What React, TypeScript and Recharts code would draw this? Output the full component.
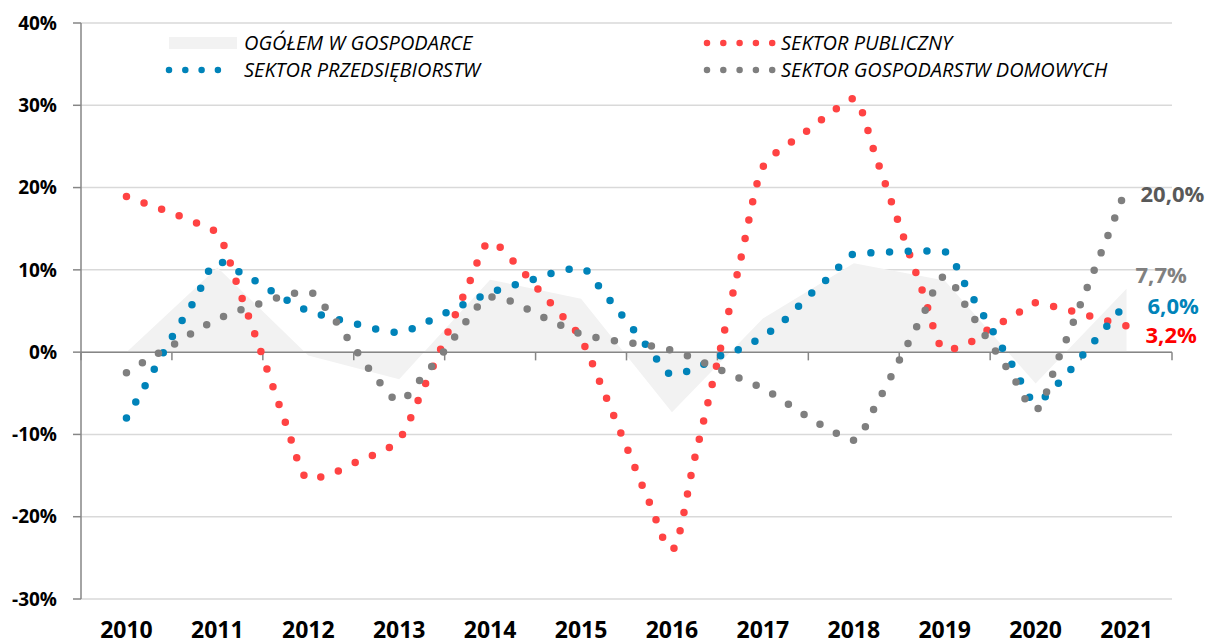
import {
  Area,
  CartesianGrid,
  ComposedChart,
  LabelList,
  Line,
  ReferenceLine,
  XAxis,
  YAxis,
} from "recharts";

const years = ["2010", "2011", "2012", "2013", "2014", "2015", "2016", "2017", "2018", "2019", "2020", "2021"];

// annual, y/y %
const totalEconomy = [0, 10.3, -0.4, -3.3, 8.8, 6.5, -7.3, 4.1, 10.8, 8.7, -3.8, 7.7];

// quarterly, from mid-2010 to mid-2021
const publicSector = [
  18.9, 17.9, 16.9, 15.8, 14.4, 7.2, -0.6, -8.6, -15.4, -14.8, -13.5, -12.3,
  -10.6, -4.8, 1.5, 7.9, 13.4, 11.1, 8.0, 4.9, 1.6, -4.8, -11.5, -18.2,
  -24.0, -12.9, -1.2, 11.0, 22.5, 25.0, 27.0, 29.1, 30.8, 23.5, 15.5, 7.6,
  0.3, 1.0, 2.9, 4.3, 6.0, 5.4, 4.7, 3.9, 3.2,
];
const enterpriseSector = [
  -8.0, -3.2, 1.8, 6.3, 11.0, 9.7, 8.1, 6.4, 5.0, 4.2, 3.5, 2.8,
  2.4, 3.4, 4.7, 6.0, 7.2, 8.1, 8.9, 9.8, 10.2, 7.2, 3.8, 0.4,
  -2.7, -2.0, -0.6, 0.4, 1.9, 4.0, 6.8, 9.3, 11.9, 12.1, 12.2, 12.3,
  12.2, 7.7, 3.1, -1.7, -6.0, -3.8, -0.6, 2.7, 6.0,
];
const householdSector = [
  -2.5, -0.8, 0.8, 2.5, 4.0, 5.1, 6.0, 6.9, 7.35, 4.5, 0.6, -3.2,
  -5.9, -3.1, 0.2, 3.9, 6.7, 6.1, 4.7, 3.4, 2.2, 1.6, 1.2, 0.8,
  0.2, -0.8, -2.0, -3.2, -4.4, -6.1, -7.9, -9.5, -10.7, -6.3, -1.0, 4.3,
  9.2, 5.3, 1.1, -3.0, -7.0, -0.8, 6.0, 12.9, 20.0,
];

const yTicks = [-30, -20, -10, 0, 10, 20, 30, 40];

const chartData = publicSector.map((v, k) => ({
  x: k / 4,
  publiczny: v,
  przedsiebiorstw: enterpriseSector[k],
  domowe: householdSector[k],
  ogolem: k % 4 === 0 ? totalEconomy[k / 4] : null,
}));

const LAST = publicSector.length - 1;
const FONT = "'Open Sans', sans-serif";
const DOTS = "0 18.7";

const fmt = (v: number) => `${v.toFixed(1).replace(".", ",")}%`;

function endLabel(color: string, dx: number, dy: number) {
  return (props: any) => {
    const vb = props.viewBox || {};
    const x = props.x ?? vb.x;
    const y = props.y ?? vb.y;
    if (props.index !== LAST || props.value == null) return null;
    return (
      <text
        x={Number(x) + dx}
        y={Number(y) + dy}
        fill={color}
        fontSize={22}
        fontWeight={700}
        fontFamily={FONT}
      >
        {fmt(Number(props.value))}
      </text>
    );
  };
}

function Legend() {
  return (
    <svg width={1208} height={90} style={{ position: "absolute", left: 0, top: 0 }}>
      <g fontFamily={FONT} fontStyle="italic" fontSize={20} fill="#000">
        <rect x={169} y={37} width={68} height={12} fill="#f2f2f2" />
        <text x={244} y={49.5}>OGÓŁEM W GOSPODARCE</text>
        <line x1={707} x2={772.2} y1={43} y2={43} stroke="#ff4343" strokeWidth={6.5} strokeLinecap="round" strokeDasharray="0 16.3" />
        <text x={781} y={49.5}>SEKTOR PUBLICZNY</text>
        <line x1={169} x2={234.2} y1={70} y2={70} stroke="#0083b9" strokeWidth={6.5} strokeLinecap="round" strokeDasharray="0 16.3" />
        <text x={244} y={77}>SEKTOR PRZEDSIĘBIORSTW</text>
        <line x1={707} x2={772.2} y1={70} y2={70} stroke="#7f7f7f" strokeWidth={6.5} strokeLinecap="round" strokeDasharray="0 16.3" />
        <text x={781} y={77}>SEKTOR GOSPODARSTW DOMOWYCH</text>
      </g>
    </svg>
  );
}

export default function App() {
  const tickMarks = years.map((_, i) => i - 0.5).concat(years.length - 0.5);
  return (
    <div style={{ position: "absolute", left: 0, top: 0, width: 1208, height: 644, background: "#fff" }}>
      <ComposedChart
        width={1208}
        height={644}
        data={chartData}
        margin={{ top: 23, right: 36, bottom: 0, left: 0 }}
      >
        <CartesianGrid vertical={false} stroke="#d9d9d9" strokeWidth={1.5} />
        <XAxis
          dataKey="x"
          type="number"
          domain={[-0.5, 11.5]}
          ticks={years.map((_, i) => i)}
          tickFormatter={(v) => years[v]}
          height={45}
          axisLine={false}
          tickLine={false}
          tickSize={0}
          tickMargin={23}
          tick={{ fill: "#000", fontSize: 23, fontWeight: 700, fontFamily: FONT }}
        />
        <YAxis
          type="number"
          domain={[-30, 40]}
          ticks={yTicks}
          tickFormatter={(v) => `${v}%`}
          width={81}
          tickSize={8}
          tickMargin={16}
          stroke="#868686"
          axisLine={{ stroke: "#868686", strokeWidth: 1.5 }}
          tickLine={{ stroke: "#868686", strokeWidth: 1.5 }}
          tick={{ fill: "#000", fontSize: 19, fontWeight: 700, fontFamily: FONT }}
        />
        <Area
          dataKey="ogolem"
          name="OGÓŁEM W GOSPODARCE"
          type="linear"
          connectNulls
          baseValue={0}
          fill="#f2f2f2"
          fillOpacity={1}
          stroke="none"
          isAnimationActive={false}
        >
          <LabelList dataKey="ogolem" content={endLabel("#808080", 9, -5.5)} />
        </Area>
        <ReferenceLine y={0} stroke="#868686" strokeWidth={1.5} />
        {tickMarks.map((t) => (
          <ReferenceLine
            key={t}
            segment={[{ x: t, y: 0 }, { x: t, y: -1 }]}
            stroke="#868686"
            strokeWidth={1.5}
          />
        ))}
        <Line
          dataKey="publiczny"
          name="SEKTOR PUBLICZNY"
          type="monotone"
          stroke="#ff4343"
          strokeWidth={7.5}
          strokeLinecap="round"
          strokeDasharray={DOTS}
          dot={false}
          activeDot={false}
          isAnimationActive={false}
        >
          <LabelList dataKey="publiczny" content={endLabel("#ff0000", 19, 17.4)} />
        </Line>
        <Line
          dataKey="przedsiebiorstw"
          name="SEKTOR PRZEDSIĘBIORSTW"
          type="monotone"
          stroke="#0083b9"
          strokeWidth={7.5}
          strokeLinecap="round"
          strokeDasharray={DOTS}
          dot={false}
          activeDot={false}
          isAnimationActive={false}
        >
          <LabelList dataKey="przedsiebiorstw" content={endLabel("#0083b9", 21, 11.5)} />
        </Line>
        <Line
          dataKey="domowe"
          name="SEKTOR GOSPODARSTW DOMOWYCH"
          type="monotone"
          stroke="#7f7f7f"
          strokeWidth={7.5}
          strokeLinecap="round"
          strokeDasharray={DOTS}
          dot={false}
          activeDot={false}
          isAnimationActive={false}
        >
          <LabelList dataKey="domowe" content={endLabel("#595959", 14, 14.7)} />
        </Line>
      </ComposedChart>
      <Legend />
    </div>
  );
}
